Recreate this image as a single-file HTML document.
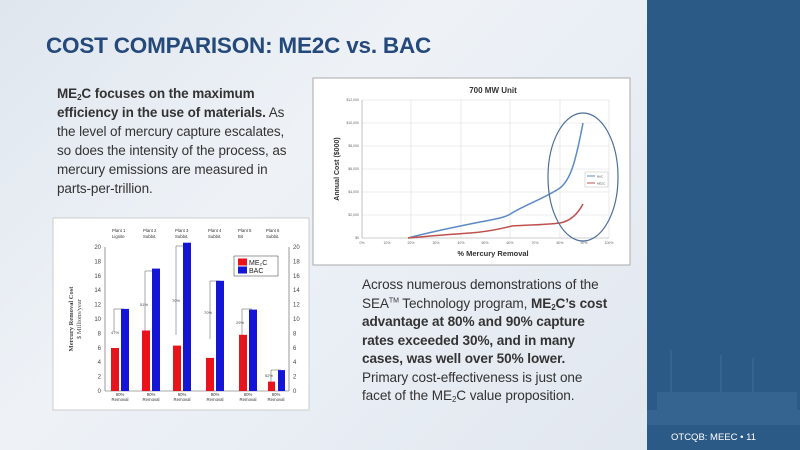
<!DOCTYPE html>
<html><head><meta charset="utf-8"><style>
body{margin:0;width:800px;height:450px;overflow:hidden;position:relative;font-family:"Liberation Sans",sans-serif;background:linear-gradient(135deg,#dfe6ee 0%,#eef2f7 35%,#e8edf4 60%,#dfe5ed 100%);}
.panel{position:absolute;left:647px;top:0;width:153px;height:450px;background:#2c5a87;}
.title{position:absolute;left:46px;top:33px;font-size:22.5px;font-weight:bold;color:#24497a;letter-spacing:-0.2px;}
.p1{position:absolute;left:57px;top:84px;font-size:13.5px;line-height:19px;color:#333;white-space:nowrap;letter-spacing:-0.1px;}
.p2{position:absolute;left:362px;top:276px;font-size:13.6px;line-height:18.5px;color:#333;white-space:nowrap;letter-spacing:-0.1px;}
sub{font-size:8px;vertical-align:-2px;line-height:0}
sup{font-size:7px;line-height:0}
.foot{position:absolute;left:671px;top:432px;font-size:9.5px;color:#fff;}
</style></head><body>
<div class="panel"></div>
<svg style="position:absolute;left:647px;top:330px" width="153" height="95"><g fill="#4a78a6" opacity="0.35"><rect x="0" y="80" width="153" height="15"/><rect x="10" y="62" width="140" height="20"/><rect x="23" y="20" width="2" height="60"/><rect x="73" y="25" width="2" height="55"/><rect x="105" y="28" width="2" height="52"/></g></svg>
<div class="title">COST COMPARISON: ME2C vs. BAC</div>
<div class="p1"><b>ME<sub>2</sub>C focuses on the maximum</b><br><b>efficiency in the use of materials.</b> As<br>the level of mercury capture escalates,<br>so does the intensity of the process, as<br>mercury emissions are measured in<br>parts-per-trillion.</div>
<div class="p2">Across numerous demonstrations of the<br>SEA<sup>TM</sup> Technology program, <b>ME<sub>2</sub>C’s cost</b><br><b>advantage at 80% and 90% capture</b><br><b>rates exceeded 30%, and in many</b><br><b>cases, was well over 50% lower.</b><br>Primary cost-effectiveness is just one<br>facet of the ME<sub>2</sub>C value proposition.</div>
<div class="foot">OTCQB: MEEC &#8226; 11</div>

<svg style="position:absolute;left:0;top:0" width="647" height="450" font-family="Liberation Sans,sans-serif">
<rect x="313" y="78" width="317" height="187" fill="#fff" stroke="#aaa"/>
<text x="493" y="93" font-size="8" font-weight="bold" text-anchor="middle" fill="#333">700 MW Unit</text>
<g stroke="#ddd" stroke-width="0.6">
<line x1="362" y1="100" x2="609" y2="100"/><line x1="362" y1="123" x2="609" y2="123"/><line x1="362" y1="146" x2="609" y2="146"/><line x1="362" y1="169" x2="609" y2="169"/><line x1="362" y1="192" x2="609" y2="192"/><line x1="362" y1="215" x2="609" y2="215"/>
<line x1="411" y1="100" x2="411" y2="238"/><line x1="461" y1="100" x2="461" y2="238"/><line x1="510" y1="100" x2="510" y2="238"/><line x1="560" y1="100" x2="560" y2="238"/><line x1="609" y1="100" x2="609" y2="238"/>
</g>
<line x1="362" y1="100" x2="362" y2="238" stroke="#999" stroke-width="0.6"/>
<line x1="362" y1="238" x2="609" y2="238" stroke="#999" stroke-width="0.6"/>
<g font-size="3.5" fill="#666" text-anchor="end">
<text x="359" y="101">$12,000</text><text x="359" y="124">$10,000</text><text x="359" y="147">$8,000</text><text x="359" y="170">$6,000</text><text x="359" y="193">$4,000</text><text x="359" y="216">$2,000</text><text x="359" y="239">$0</text></g>
<g font-size="3.5" fill="#666" text-anchor="middle">
<text x="362" y="244">0%</text><text x="387" y="244">10%</text><text x="411" y="244">20%</text><text x="436" y="244">30%</text><text x="461" y="244">40%</text><text x="485" y="244">50%</text><text x="510" y="244">60%</text><text x="535" y="244">70%</text><text x="560" y="244">80%</text><text x="584" y="244">90%</text><text x="609" y="244">100%</text></g>
<text x="493" y="256" font-size="7.5" font-weight="bold" text-anchor="middle" fill="#333">% Mercury Removal</text>
<text transform="translate(339,169) rotate(-90)" font-size="7" font-weight="bold" text-anchor="middle" fill="#333">Annual Cost ($000)</text>
<path d="M408 238 C430 232 460 226 480 222 C495 219 505 218 512 213 C525 205 545 198 560 188 C570 180 575 165 583 123" fill="none" stroke="#5b8ac6" stroke-width="1.5"/>
<path d="M408 238 C430 236 455 234 470 233 C485 232 500 229 512 226 C525 225 545 225 560 223 C570 221 577 215 583 204" fill="none" stroke="#c0504d" stroke-width="1.5"/>
<rect x="585" y="172" width="23" height="15" fill="#fff" stroke="#bbb" stroke-width="0.5"/>
<line x1="587" y1="176" x2="595" y2="176" stroke="#5b8ac6"/><line x1="587" y1="183" x2="595" y2="183" stroke="#c0504d"/>
<text x="597" y="177.5" font-size="3" fill="#555">BAC</text><text x="597" y="184.5" font-size="3" fill="#555">ME2C</text>
<ellipse cx="583" cy="177" rx="35" ry="64" fill="none" stroke="#4d6f9a" stroke-width="1.2"/>

<rect x="53" y="218" width="256" height="192" fill="#fff" stroke="#ccc"/>
<line x1="105" y1="247" x2="105" y2="391" stroke="#555" stroke-width="0.6"/>
<line x1="289" y1="247" x2="289" y2="391" stroke="#555" stroke-width="0.6"/>
<line x1="105" y1="391" x2="289" y2="391" stroke="#555" stroke-width="0.6"/>
<g font-size="6" fill="#444">
<g text-anchor="end"><text x="101" y="393">0</text><text x="101" y="378.6">2</text><text x="101" y="364.2">4</text><text x="101" y="349.8">6</text><text x="101" y="335.4">8</text><text x="101" y="321">10</text><text x="101" y="306.6">12</text><text x="101" y="292.2">14</text><text x="101" y="277.8">16</text><text x="101" y="263.4">18</text><text x="101" y="249">20</text></g>
<g><text x="293" y="393">0</text><text x="293" y="378.6">2</text><text x="293" y="364.2">4</text><text x="293" y="349.8">6</text><text x="293" y="335.4">8</text><text x="293" y="321">10</text><text x="293" y="306.6">12</text><text x="293" y="292.2">14</text><text x="293" y="277.8">16</text><text x="293" y="263.4">18</text><text x="293" y="249">20</text></g>
</g>
<text transform="translate(73,319) rotate(-90)" font-size="6.5" font-weight="bold" text-anchor="middle" fill="#444" font-family="Liberation Serif,serif">Mercury Removal Cost</text>
<text transform="translate(81,319) rotate(-90)" font-size="6.5" text-anchor="middle" fill="#444" font-family="Liberation Serif,serif">$ Millions/year</text>
<g stroke="#555" stroke-width="0.5" fill="none">
<path d="M114 332 V309 H124"/><path d="M145 331 V271 H155"/><path d="M176 335 V246 H186"/><path d="M210 339 V281 H220"/><path d="M242 335 V309 H252"/><path d="M271 385 V370 H281"/>
</g>
<g fill="#e8141b">
<rect x="111" y="348" width="8" height="43"/><rect x="142" y="330.5" width="8" height="60.5"/><rect x="173" y="345.6" width="8" height="45.4"/><rect x="206" y="357.9" width="8" height="33.1"/><rect x="239" y="334.8" width="8" height="56.2"/><rect x="268" y="381.6" width="7" height="9.4"/>
</g>
<g fill="#1515d6">
<rect x="121" y="308.9" width="8" height="82.1"/><rect x="152" y="268.6" width="8" height="122.4"/><rect x="183" y="242.7" width="8" height="148.3"/><rect x="216" y="280.8" width="8" height="110.2"/><rect x="249" y="309.6" width="8" height="81.4"/><rect x="278" y="370.1" width="7" height="20.9"/>
</g>
<g font-size="4" fill="#444">
<text x="111" y="334">47%</text><text x="140" y="306">51%</text><text x="172" y="302">70%</text><text x="204" y="314">70%</text><text x="236" y="324">29%</text><text x="265" y="377">52%</text>
</g>
<g font-size="4.3" fill="#333">
<text x="112" y="232">Plant 1</text><text x="112" y="238">Lignite</text>
<text x="143" y="232">Plant 2</text><text x="143" y="238">Subbit.</text>
<text x="175" y="232">Plant 3</text><text x="175" y="238">Subbit.</text>
<text x="208" y="232">Plant 4</text><text x="208" y="238">Subbit.</text>
<text x="238" y="232">Plant 5</text><text x="238" y="238">Bit</text>
<text x="266" y="232">Plant 6</text><text x="266" y="238">Subbit.</text>
</g>
<g font-size="4.3" fill="#333" text-anchor="middle">
<text x="120" y="396">90%</text><text x="120" y="401">Removal</text>
<text x="151" y="396">90%</text><text x="151" y="401">Removal</text>
<text x="182" y="396">90%</text><text x="182" y="401">Removal</text>
<text x="215" y="396">90%</text><text x="215" y="401">Removal</text>
<text x="248" y="396">80%</text><text x="248" y="401">Removal</text>
<text x="276" y="396">90%</text><text x="276" y="401">Removal</text>
</g>
<rect x="234" y="256" width="44" height="20" fill="#fff" stroke="#333" stroke-width="0.5"/>
<rect x="238" y="258.5" width="9" height="7" fill="#e8141b"/><rect x="238" y="266.5" width="9" height="7" fill="#1515d6"/>
<text x="249" y="265" font-size="7" fill="#222">ME₂C</text><text x="249" y="273" font-size="7" fill="#222">BAC</text>
</svg>
</body></html>
